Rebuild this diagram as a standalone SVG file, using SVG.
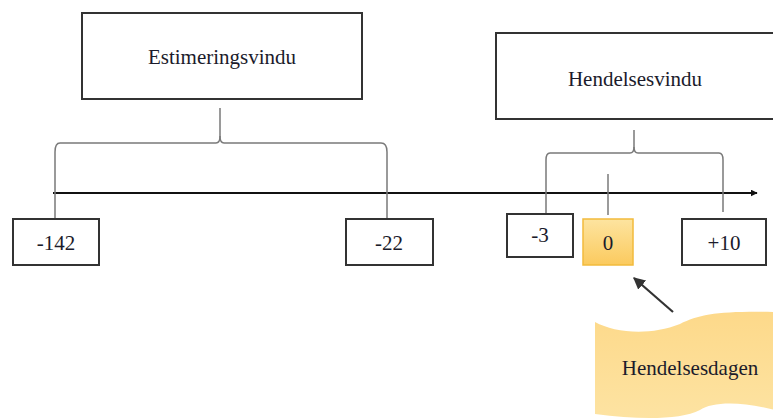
<svg xmlns="http://www.w3.org/2000/svg" width="773" height="419" viewBox="0 0 773 419">
<defs>
<linearGradient id="gold" x1="0" y1="0" x2="0" y2="1">
<stop offset="0" stop-color="#fde4a0"/>
<stop offset="1" stop-color="#fbca5e"/>
</linearGradient>
<linearGradient id="gold2" x1="0" y1="0" x2="0" y2="1">
<stop offset="0" stop-color="#fdd98a"/>
<stop offset="1" stop-color="#fde3a2"/>
</linearGradient>
<marker id="ah" viewBox="0 0 10 10" refX="9" refY="5" markerWidth="7" markerHeight="7" orient="auto" markerUnits="userSpaceOnUse">
<path d="M0,0 L10,5 L0,10 z" fill="#111"/>
</marker>
<marker id="ah2" viewBox="0 0 10 10" refX="9" refY="5" markerWidth="12" markerHeight="12" orient="auto" markerUnits="userSpaceOnUse">
<path d="M0,0 L10,5 L0,10 z" fill="#333"/>
</marker>
</defs>
<style>
.box{fill:#fff;stroke:#333;stroke-width:2}
.lbl{font-family:"Liberation Serif","Times New Roman",serif;font-size:21px;fill:#1b1b2b;text-anchor:middle}
.brace{fill:none;stroke:#7a7a7a;stroke-width:1.5}
</style>
<g id="connectors">
<line x1="53" y1="193" x2="757" y2="193" stroke="#111" stroke-width="2" marker-end="url(#ah)"/>
<path class="brace" d="M220,108 L220,136 Q220,143 216,143 L60,143 Q55,143 55,152 L55,219"/>
<path class="brace" d="M220,136 Q220,143 224,143 L381,143 Q387,143 387,152 L387,219"/>
<path class="brace" d="M634,130 L634,147 Q634,153 630,153 L550,153 Q546,153 546,160 L546,213"/>
<path class="brace" d="M634,147 Q634,153 638,153 L719,153 Q723,153 723,160 L723,212"/>
<line x1="608" y1="174" x2="608" y2="215" stroke="#7a7a7a" stroke-width="1.5"/>
<line x1="673" y1="312" x2="634" y2="278" stroke="#333" stroke-width="2.2" marker-end="url(#ah2)"/>
</g>
<g id="estimeringsvindu">
<rect class="box" x="82" y="13" width="280" height="86"/>
<text class="lbl" x="222" y="64">Estimeringsvindu</text>
</g>
<g id="hendelsesvindu">
<rect class="box" x="496" y="33" width="280" height="86"/>
<text class="lbl" x="635" y="86">Hendelsesvindu</text>
</g>
<g id="n-142">
<rect class="box" x="13" y="219" width="86" height="46"/>
<text class="lbl" x="56" y="250">-142</text>
</g>
<g id="n-22">
<rect class="box" x="346" y="219" width="87" height="46"/>
<text class="lbl" x="389" y="250">-22</text>
</g>
<g id="n-3">
<rect class="box" x="507" y="214" width="66" height="43"/>
<text class="lbl" x="540" y="242">-3</text>
</g>
<g id="n0">
<rect x="583" y="219" width="50" height="46" fill="url(#gold)" stroke="#f2bb3c" stroke-width="1.5"/>
<text class="lbl" x="608" y="250">0</text>
</g>
<g id="n+10">
<rect class="box" x="682" y="219" width="84" height="46"/>
<text class="lbl" x="724" y="250">+10</text>
</g>
<g id="hendelsesdagen">
<path d="M595,322 C615,333 650,336 680,324 C700,314 720,311 775,312 L775,410 C740,401 712,402 700,410 C680,420 640,420 595,414 Z" fill="url(#gold2)"/>
<text class="lbl" x="690" y="375">Hendelsesdagen</text>
</g>
</svg>
